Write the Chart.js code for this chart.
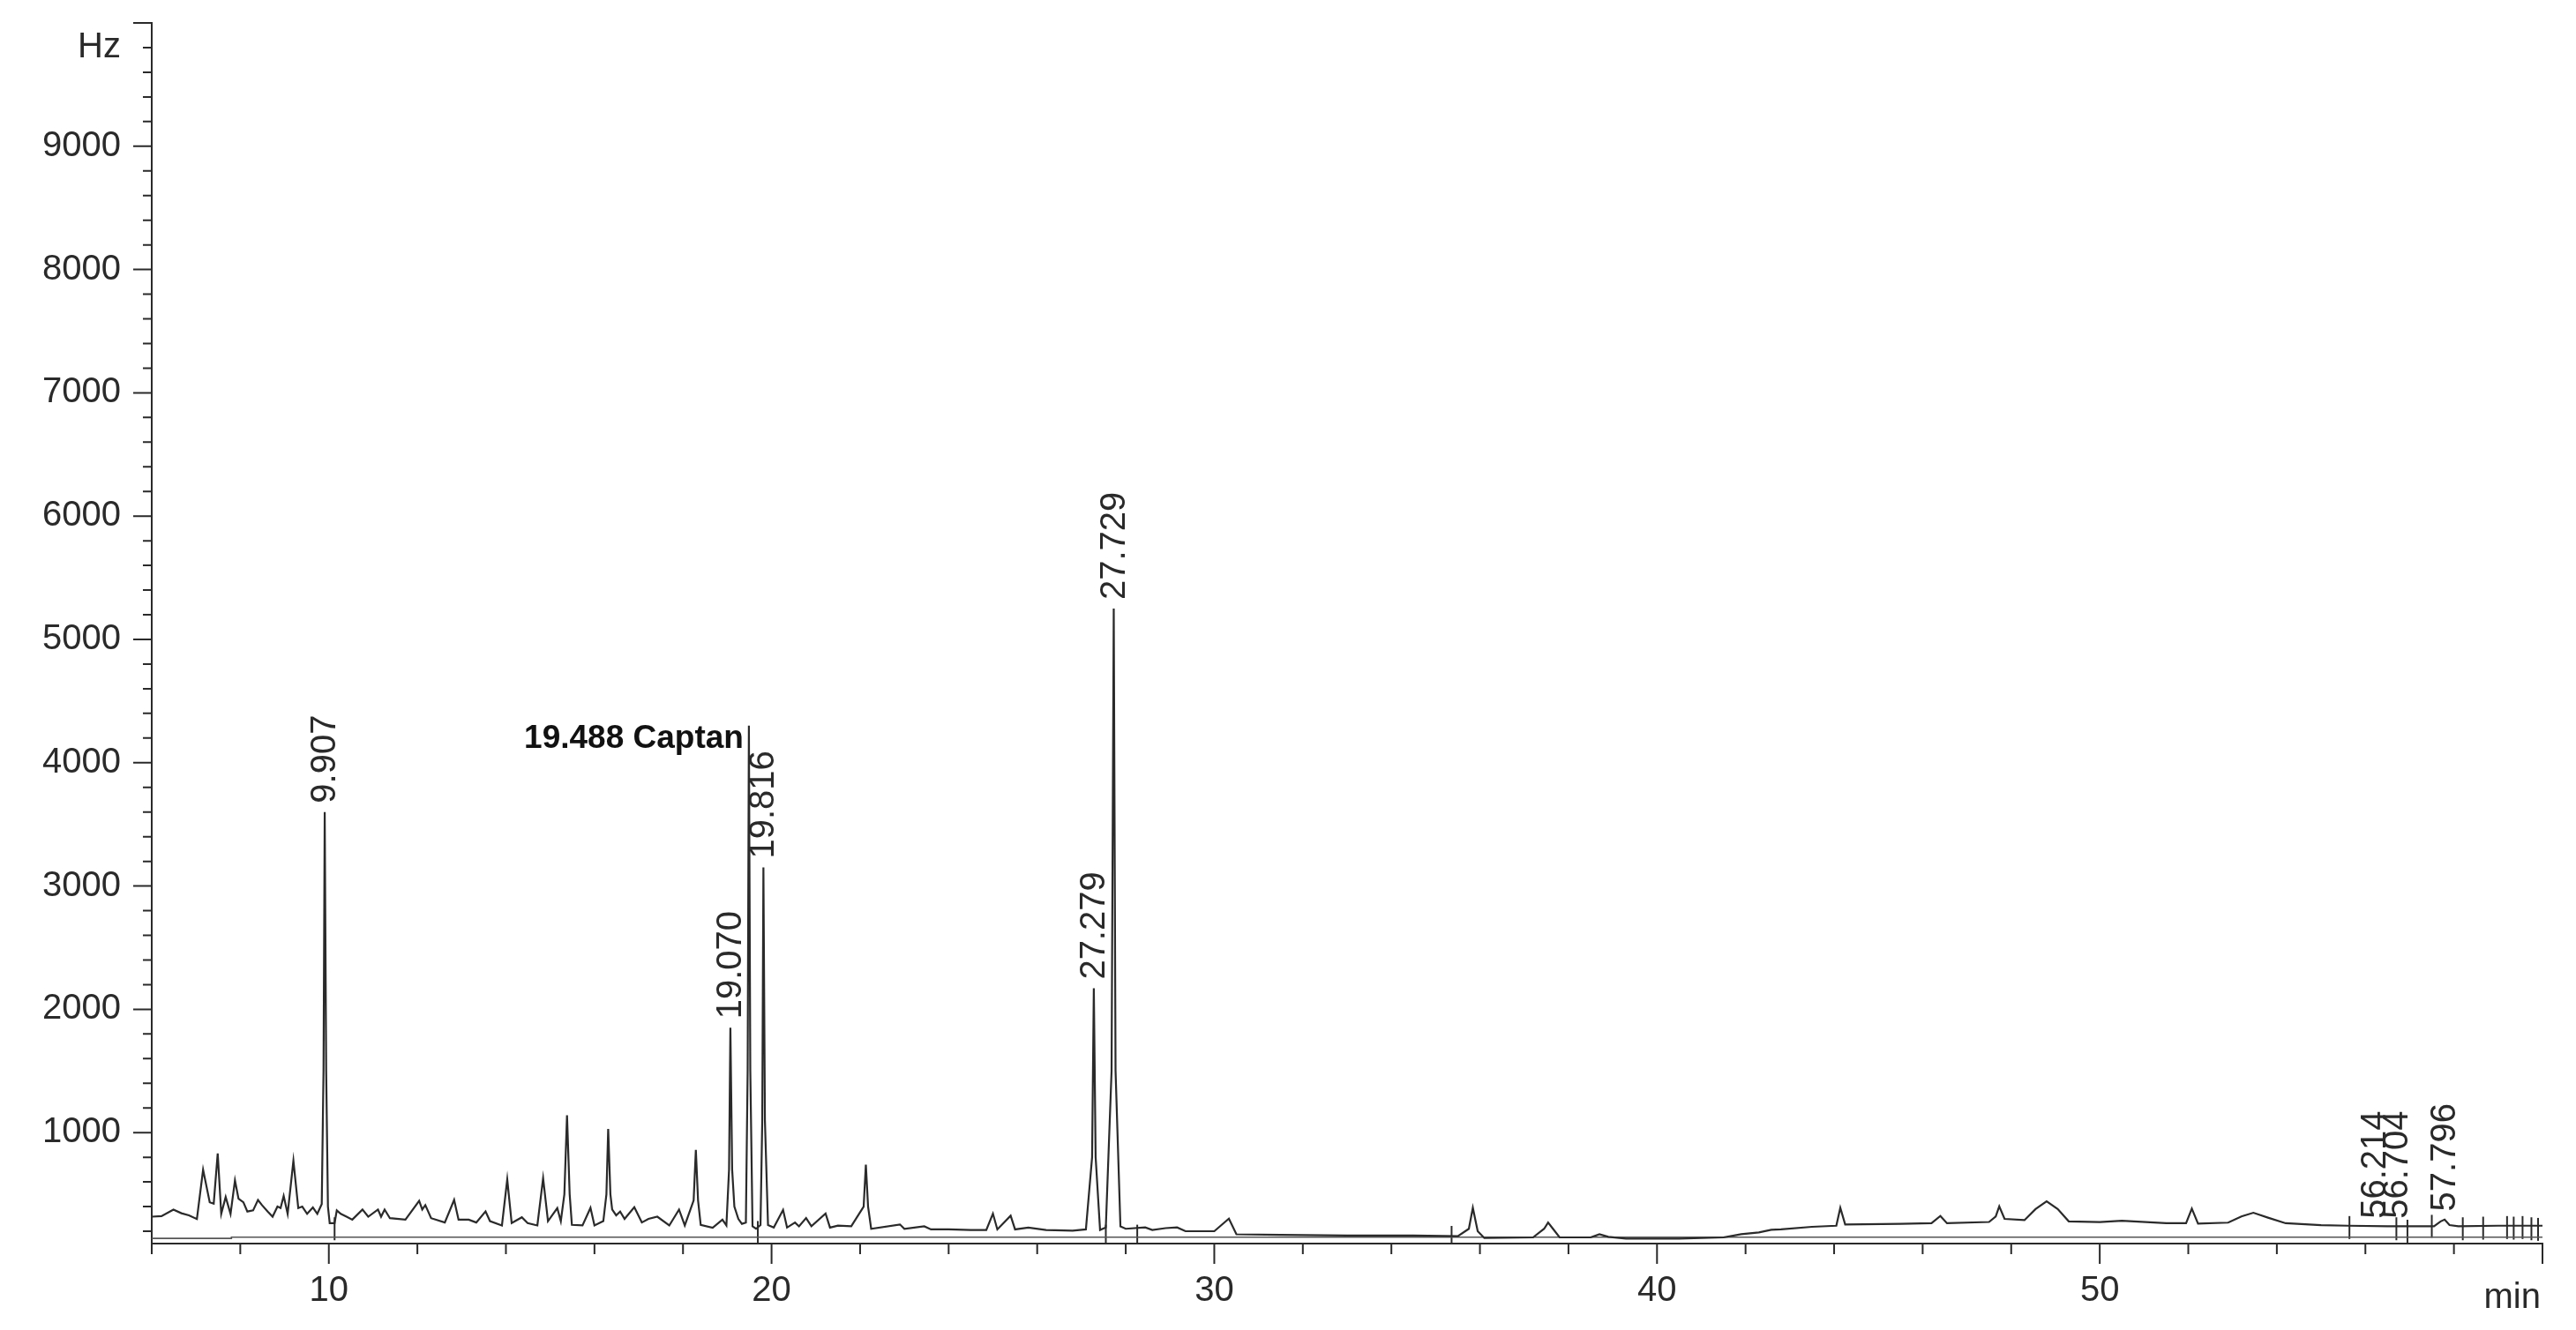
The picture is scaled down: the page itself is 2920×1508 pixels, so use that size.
<!DOCTYPE html>
<html>
<head>
<meta charset="utf-8">
<script src="https://cdn.jsdelivr.net/npm/chart.js@4.4.1/dist/chart.umd.min.js"></script>
<style>
  html, body { margin: 0; padding: 0; background: #fff; }
  canvas { display: block; }
</style>
</head>
<body>
<canvas id="chart" width="2920" height="1508"></canvas>
<script>
// retention time (min) / detector signal (Hz)
const traceTimes = [
  6.00, 6.22, 6.49, 6.67, 6.84, 7.02, 7.16, 7.31, 7.40, 7.49, 7.57, 7.67, 7.78, 7.88, 7.96,
  8.07, 8.16, 8.29, 8.40, 8.49, 8.62, 8.73, 8.84, 8.91, 8.98, 9.07, 9.20, 9.31, 9.40, 9.51,
  9.64, 9.74, 9.84, 9.88, 9.907, 9.94, 9.98, 10.02, 10.13, 10.18, 10.27, 10.40, 10.53, 10.76, 10.89,
  11.11, 11.18, 11.26, 11.38, 11.73, 12.04, 12.11, 12.18, 12.31, 12.62, 12.83, 12.93, 13.16, 13.33, 13.54,
  13.64, 13.91, 14.03, 14.13, 14.36, 14.49, 14.71, 14.84, 14.95, 15.16, 15.24, 15.32, 15.38, 15.44, 15.49,
  15.73, 15.91, 16.00, 16.20, 16.27, 16.31, 16.36, 16.40, 16.49, 16.58, 16.68, 16.90, 17.07, 17.22, 17.42,
  17.69, 17.91, 18.04, 18.24, 18.29, 18.34, 18.40, 18.67, 18.89, 18.98, 19.04, 19.07, 19.11, 19.16, 19.25,
  19.33, 19.42, 19.46, 19.488, 19.52, 19.57, 19.65, 19.75, 19.79, 19.816, 19.85, 19.92, 20.05, 20.26, 20.35,
  20.53, 20.62, 20.78, 20.90, 21.22, 21.32, 21.50, 21.80, 22.08, 22.13, 22.18, 22.25, 22.90, 23.00, 23.45,
  23.60, 24.00, 24.50, 24.85, 25.00, 25.10, 25.40, 25.50, 25.80, 26.20, 26.80, 27.10, 27.24, 27.279, 27.32,
  27.42, 27.55, 27.68, 27.729, 27.77, 27.88, 28.00, 28.44, 28.60, 28.90, 29.16, 29.35, 30.00, 30.33, 30.50,
  31.50, 33.00, 34.50, 35.50, 35.75, 35.84, 35.95, 36.10, 37.20, 37.45, 37.54, 37.65, 37.80, 38.50, 38.70,
  38.90, 39.30, 40.50, 41.50, 41.90, 42.30, 42.58, 42.80, 43.50, 44.05, 44.14, 44.25, 45.50, 46.20, 46.40,
  46.55, 47.50, 47.65, 47.73, 47.85, 48.30, 48.55, 48.80, 49.05, 49.30, 50.00, 50.50, 51.50, 51.95, 52.08,
  52.22, 52.90, 53.20, 53.47, 53.80, 54.20, 55.00, 55.60, 56.50, 57.55, 57.70, 57.79, 57.90, 58.10, 59.00,
  60.00
];
const traceValues = [
  318, 322, 376, 346, 329, 299, 699, 435, 424, 831, 341, 478, 341, 612, 464,
  435, 360, 369, 454, 412, 360, 318, 400, 388, 487, 341, 772, 388, 400, 341,
  393, 341, 420, 1500, 3600, 1500, 400, 266, 266, 369, 341, 318, 294, 376, 318,
  376, 318, 376, 306, 294, 447, 376, 412, 306, 271, 454, 294, 294, 271, 360,
  282, 247, 620, 266, 313, 266, 247, 630, 282, 388, 282, 500, 1140, 500, 252,
  247, 390, 247, 282, 500, 1030, 500, 376, 329, 360, 300, 395, 271, 300, 318,
  247, 376, 247, 450, 860, 450, 252, 228, 294, 247, 700, 1850, 700, 400, 300,
  260, 270, 1500, 4300, 1500, 240, 220, 250, 1100, 3150, 1100, 250, 230, 373, 230,
  271, 240, 307, 240, 343, 230, 245, 240, 400, 740, 400, 220, 255, 220, 240,
  215, 215, 210, 210, 343, 215, 326, 215, 230, 210, 205, 215, 800, 2170, 800,
  210, 230, 1500, 5250, 1500, 240, 220, 231, 210, 225, 231, 200, 200, 302, 175,
  170, 165, 165, 160, 220, 390, 200, 145, 150, 220, 271, 220, 150, 150, 176,
  155, 140, 140, 150, 176, 190, 212, 215, 236, 245, 390, 255, 260, 265, 324,
  265, 275, 320, 402, 300, 290, 380, 443, 380, 280, 275, 285, 265, 265, 383,
  262, 270, 320, 350, 310, 265, 250, 245, 240, 240, 280, 295, 250, 240, 245,
  245
];

// integration baseline drawn under the trace
const baseTimes = [6, 7.8, 7.8, 60];
const baseValues = [142, 142, 152, 152];

// integration event marks
const markTimes = [10.13, 19.69, 27.55, 28.26, 35.36, 55.64, 56.70, 56.95, 57.50, 58.20, 58.66, 59.20, 59.35, 59.55, 59.75, 59.90];
const markValues = [220, 190, 160, 160, 150, 230, 220, 200, 240, 220, 225, 230, 225, 230, 220, 215];

// labelled peaks
const peakTimes = [9.907, 19.070, 19.816, 27.279, 27.729, 56.214, 56.704, 57.796];
const peakHeights = [3600, 1850, 3150, 2170, 5250, 230, 230, 290];
const peakNames = ["9.907", "19.070", "19.816", "27.279", "27.729", "56.214", "56.704", "57.796"];

const namedTime = 19.488;
const namedHeight = 4300;
const namedLabel = "19.488 Captan";

const xTickLabels = [10, 20, 30, 40, 50];
const yTickLabels = [1000, 2000, 3000, 4000, 5000, 6000, 7000, 8000, 9000];

const INK = "#2a2a2a";
const FONT = "'Liberation Sans', Arial, sans-serif";

function pairs(xs, ys) {
  return xs.map((t, i) => ({ x: t, y: ys[i] }));
}

// tick marks, unit labels and peak annotations
const annotate = {
  id: "annotate",
  afterDraw(chart) {
    const { ctx, chartArea: area, scales: { x, y } } = chart;
    ctx.save();
    ctx.strokeStyle = INK;
    ctx.lineWidth = 2;
    ctx.beginPath();
    for (let v = 200; v <= 10000; v += 200) {
      const py = y.getPixelForValue(v);
      const len = v % 1000 === 0 ? 21 : 10;
      ctx.moveTo(area.left - len, py);
      ctx.lineTo(area.left, py);
    }
    for (let t = 6; t <= 60; t += 2) {
      const px = x.getPixelForValue(t);
      const len = t % 10 === 0 ? 23 : 12;
      ctx.moveTo(px, area.bottom);
      ctx.lineTo(px, area.bottom + len);
    }
    ctx.stroke();

    ctx.fillStyle = INK;
    ctx.font = "40px " + FONT;
    ctx.textAlign = "right";
    ctx.textBaseline = "middle";
    ctx.fillText("Hz", area.left - 35, 54);
    ctx.textBaseline = "alphabetic";
    ctx.fillText("min", area.right - 2, 1483);

    // retention-time labels, rotated
    peakTimes.forEach((t, i) => {
      const px = x.getPixelForValue(t);
      const py = y.getPixelForValue(peakHeights[i]);
      ctx.save();
      ctx.translate(px + 1, py - 10);
      ctx.rotate(-Math.PI / 2);
      ctx.textAlign = "left";
      ctx.textBaseline = "middle";
      ctx.font = "40px " + FONT;
      ctx.fillText(peakNames[i], 0, 0);
      ctx.restore();
    });

    const cx = x.getPixelForValue(namedTime);
    const cy = y.getPixelForValue(namedHeight);
    ctx.font = "bold 37px " + FONT;
    ctx.textAlign = "right";
    ctx.textBaseline = "top";
    ctx.fillStyle = "#111";
    ctx.fillText(namedLabel, cx - 6, cy - 4);
    ctx.restore();
  }
};

new Chart(document.getElementById("chart"), {
  type: "line",
  data: {
    datasets: [
      {
        label: "signal",
        data: pairs(traceTimes, traceValues),
        borderColor: INK,
        borderWidth: 2.2,
        pointRadius: 0,
        tension: 0
      },
      {
        label: "baseline",
        data: pairs(baseTimes, baseValues),
        borderColor: "#555",
        borderWidth: 1.6,
        pointRadius: 0,
        tension: 0
      },
      {
        label: "events",
        data: pairs(markTimes, markValues),
        showLine: false,
        pointStyle: "line",
        rotation: 90,
        pointRadius: 13,
        borderColor: INK,
        borderWidth: 2
      }
    ]
  },
  options: {
    responsive: false,
    animation: false,
    layout: { padding: { top: 26, right: 38, left: 0, bottom: 0 } },
    plugins: {
      legend: { display: false },
      tooltip: { enabled: false }
    },
    scales: {
      x: {
        type: "linear",
        min: 6,
        max: 60,
        grid: { display: false, drawTicks: false },
        border: { display: true, color: INK, width: 2 },
        afterBuildTicks: (scale) => { scale.ticks = xTickLabels.map(v => ({ value: v })); },
        afterFit: (scale) => {
          scale.height = 98;
          scale.paddingLeft = 0;
          scale.paddingRight = 0;
        },
        ticks: {
          autoSkip: false,
          maxRotation: 0,
          padding: 30,
          color: INK,
          font: { family: FONT, size: 40 },
          callback: (v) => String(v)
        }
      },
      y: {
        min: 100,
        max: 10000,
        grid: { display: false, drawTicks: false },
        border: { display: true, color: INK, width: 2 },
        afterBuildTicks: (scale) => { scale.ticks = yTickLabels.map(v => ({ value: v })); },
        afterFit: (scale) => {
          scale.width = 172;
          scale.paddingTop = 0;
          scale.paddingBottom = 0;
        },
        ticks: {
          padding: 35,
          color: INK,
          font: { family: FONT, size: 40 },
          callback: (v) => String(v)
        }
      }
    }
  },
  plugins: [annotate]
});
</script>
</body>
</html>
